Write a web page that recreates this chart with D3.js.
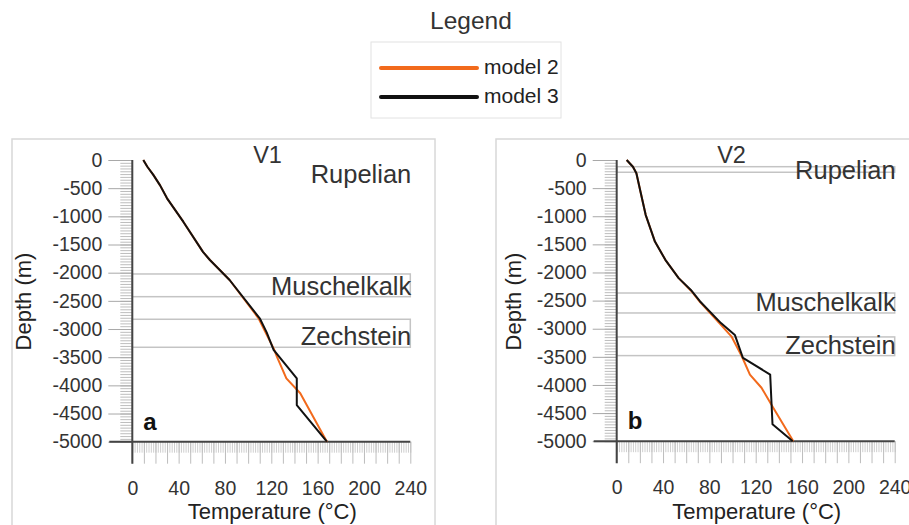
<!doctype html>
<html>
<head>
<meta charset="utf-8">
<script src="https://cdn.jsdelivr.net/npm/d3@7"></script>
<style>
  body { margin: 0; background: #fff; }
  svg { display: block; font-family: "Liberation Sans", Arial, sans-serif; }
</style>
</head>
<body>
<svg id="chart" width="909" height="525"></svg>
<script>
// ---- data ----
const seriesNames = ["model 2", "model 3"];
const seriesColors = ["#f26a1c", "#111111"];

const tempTicks = [0, 40, 80, 120, 160, 200, 240];
const depthTicks = [0, -500, -1000, -1500, -2000, -2500, -3000, -3500, -4000, -4500, -5000];

// [temperature °C, depth m]
const v1Model2 = [[9.5, 0], [13, -120], [18, -260], [24, -450], [30, -680], [44, -1095], [61, -1630],
  [67, -1775], [84, -2130], [109, -2810], [115, -3060], [122, -3345], [125, -3500], [133, -3875],
  [145, -4140], [168, -5000]];
const v1Model3 = [[9.5, 0], [13, -120], [18, -260], [24, -450], [30, -680], [44, -1095], [61, -1630],
  [67, -1775], [84, -2130], [110, -2810], [116, -3060], [122, -3370], [142, -3875], [142, -4350],
  [168, -5000]];
const v2Model2 = [[8.6, 0], [14, -120], [17, -235], [20.5, -560], [25, -975], [33, -1450], [42, -1775],
  [53.5, -2100], [64, -2320], [72, -2525], [89, -2910], [99, -3135], [108, -3490], [115, -3815],
  [125, -4050], [135, -4400], [152.5, -5000]];
const v2Model3 = [[8.6, 0], [14, -120], [17, -235], [20.5, -560], [25, -975], [33, -1450], [42, -1775],
  [53.5, -2100], [64, -2310], [72, -2515], [90, -2900], [102, -3110], [109, -3520], [132.5, -3815],
  [134.5, -4700], [152, -5000]];

const formationNames = ["Rupelian", "Muschelkalk", "Zechstein"];
const v1Tops = [-236, -2023, -2827];
const v1Bases = [-236, -2426, -3324];
const v2Tops = [-119, -2365, -3146];
const v2Bases = [-218, -2720, -3478];

// ---- layout ----
const panels = [
  { title: "V1", letter: "a", x0: 132.3, x1: 410.3, y0: 160, y1: 441.7, frame: [12, 139, 423, 420],
    titleX: 267.5, ylabX: 31, m2: v1Model2, m3: v1Model3, tops: v1Tops, bases: v1Bases },
  { title: "V2", letter: "b", x0: 616.7, x1: 894.7, y0: 160, y1: 441.2, frame: [496, 139, 500, 420],
    titleX: 731.5, ylabX: 521, m2: v2Model2, m3: v2Model3, tops: v2Tops, bases: v2Bases }
];

const fmt = d => String(d);   // plain hyphen, no thousands separator
const svg = d3.select("#chart");

// legend
svg.append("text").attr("x", 471).attr("y", 29).attr("text-anchor", "middle")
  .attr("font-size", 24.5).attr("fill", "#333").text("Legend");
const legend = svg.append("g");
legend.append("rect").attr("x", 371).attr("y", 42).attr("width", 190).attr("height", 76)
  .attr("fill", "#fff").attr("stroke", "#e2e2e2");
seriesNames.forEach((name, i) => {
  const ly = 68 + i * 29;
  legend.append("line").attr("x1", 381).attr("x2", 477).attr("y1", ly).attr("y2", ly)
    .attr("stroke", seriesColors[i]).attr("stroke-width", 4).attr("stroke-linecap", "round");
  legend.append("text").attr("x", 484).attr("y", ly + 6).attr("font-size", 21)
    .attr("fill", "#222").text(name);
});

panels.forEach(p => {
  const g = svg.append("g");
  const x = d3.scaleLinear().domain([0, 240]).range([p.x0, p.x1]);
  const y = d3.scaleLinear().domain([0, -5000]).range([p.y0, p.y1]);

  g.append("rect").attr("x", p.frame[0]).attr("y", p.frame[1])
    .attr("width", p.frame[2]).attr("height", p.frame[3])
    .attr("fill", "none").attr("stroke", "#d8d8d8").attr("stroke-width", 1.5);

  // minor depth ticks every 50 m
  g.append("g").attr("transform", `translate(${p.x0},0)`)
    .call(d3.axisLeft(y).tickValues(d3.range(0, -5001, -50)).tickSize(12).tickFormat(""))
    .call(a => a.select(".domain").remove())
    .call(a => a.selectAll("line").attr("stroke", "#bdbdbd"));
  // major depth ticks
  g.append("g").attr("transform", `translate(${p.x0},0)`)
    .call(d3.axisLeft(y).tickValues(depthTicks).tickSize(24).tickPadding(6).tickFormat(fmt))
    .call(a => a.select(".domain").remove())
    .call(a => a.selectAll("line").attr("stroke", "#a8a8a8"))
    .call(a => a.selectAll("text").attr("font-size", 19.5).attr("fill", "#333")
      .attr("font-family", "Liberation Sans, Arial, sans-serif"));

  // x ticks: minor every 2, medium every 10
  g.append("g").attr("transform", `translate(0,${p.y1})`)
    .call(d3.axisBottom(x).tickValues(d3.range(0, 241, 2)).tickSize(11).tickFormat(""))
    .call(a => a.select(".domain").remove())
    .call(a => a.selectAll("line").attr("stroke", "#cfcfcf"));
  g.append("g").attr("transform", `translate(0,${p.y1})`)
    .call(d3.axisBottom(x).tickValues(d3.range(0, 241, 10)).tickSize(22).tickFormat(""))
    .call(a => a.select(".domain").remove())
    .call(a => a.selectAll("line").attr("stroke", "#bdbdbd"));
  g.append("g").attr("transform", `translate(0,${p.y1})`)
    .call(d3.axisBottom(x).tickValues(tempTicks).tickSize(0).tickPadding(39).tickFormat(fmt))
    .call(a => a.select(".domain").remove())
    .call(a => a.selectAll("text").attr("font-size", 19.5).attr("fill", "#333")
      .attr("font-family", "Liberation Sans, Arial, sans-serif"));

  // formation boxes
  formationNames.forEach((name, i) => {
    const yt = y(p.tops[i]), yb = y(p.bases[i]);
    g.append("rect").attr("x", x(0)).attr("y", yt).attr("width", x(240) - x(0))
      .attr("height", Math.max(0, yb - yt)).attr("fill", "none")
      .attr("stroke", "#c4c4c4").attr("stroke-width", 1.5);
    const h = yb - yt;
    g.append("text").attr("x", x(240) + 1).attr("y", h < 15 ? yb + 7 + (h < 1 ? 3 : 0) : yb - 2)
      .attr("text-anchor", "end").attr("font-size", 25.5).attr("fill", "#333").text(name);
  });

  // axes lines
  g.append("line").attr("x1", x(0)).attr("x2", x(0)).attr("y1", y(0)).attr("y2", y(-5000) + 22)
    .attr("stroke", "#444").attr("stroke-width", 2);
  g.append("line").attr("x1", x(0) - 23).attr("x2", x(240)).attr("y1", y(-5000)).attr("y2", y(-5000))
    .attr("stroke", "#444").attr("stroke-width", 2);

  // curves
  const line = d3.line().x(d => x(d[0])).y(d => y(d[1]));
  [p.m2, p.m3].forEach((s, i) => {
    g.append("path").attr("d", line(s)).attr("fill", "none")
      .attr("stroke", seriesColors[i]).attr("stroke-width", 2).attr("stroke-linejoin", "round");
  });

  // labels
  g.append("text").attr("x", p.titleX).attr("y", 163).attr("text-anchor", "middle")
    .attr("font-size", 23.5).attr("fill", "#333").text(p.title);
  g.append("text").attr("x", x(0) + 11).attr("y", y(-5000) - 12)
    .attr("font-size", 24).attr("font-weight", "bold").attr("fill", "#111").text(p.letter);
  g.append("text").attr("transform", `translate(${p.ylabX},${301.5}) rotate(-90)`)
    .attr("text-anchor", "middle").attr("font-size", 22).attr("fill", "#222").text("Depth (m)");
  g.append("text").attr("x", (x(0) + x(240)) / 2 + 1).attr("y", 519).attr("text-anchor", "middle")
    .attr("font-size", 22).attr("fill", "#222").text("Temperature (°C)");
});
</script>
</body>
</html>
